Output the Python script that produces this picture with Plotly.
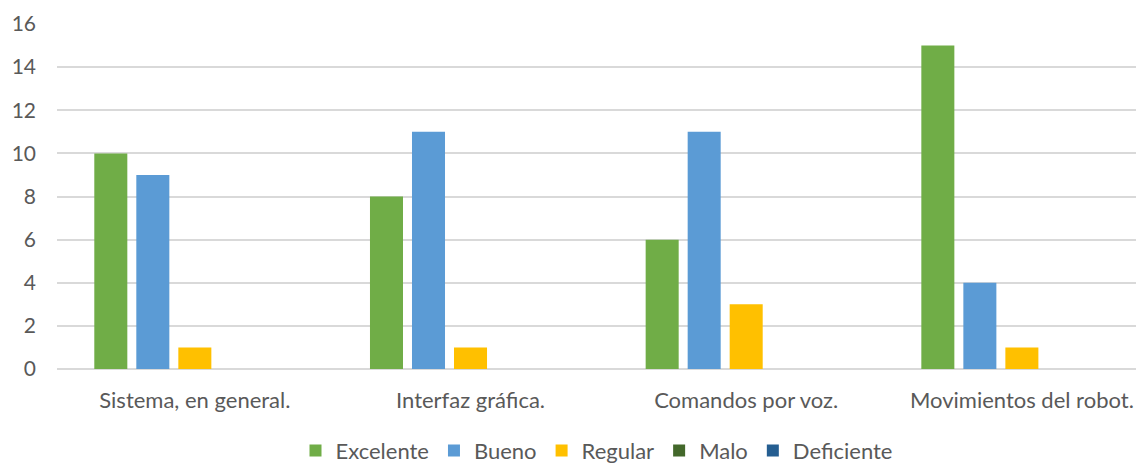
import plotly.graph_objects as go

categories = ["Sistema, en general.", "Interfaz gráfica.", "Comandos por voz.", "Movimientos del robot."]
series_names = ["Excelente", "Bueno", "Regular", "Malo", "Deficiente"]
excelente = [10, 8, 6, 15]
bueno = [9, 11, 11, 4]
regular = [1, 1, 3, 1]
malo = [0, 0, 0, 0]
deficiente = [0, 0, 0, 0]
y_ticks = [0, 2, 4, 6, 8, 10, 12, 14, 16]

colors = ["#70AD47", "#5B9BD5", "#FFC000", "#43682B", "#255E91"]
values = [excelente, bueno, regular, malo, deficiente]

FONT = "Lato"
TEXT = "#595959"
SIZE = 22

fig = go.Figure()
for name, vals, col in zip(series_names, values, colors):
    fig.add_trace(go.Bar(
        x=categories, y=vals, name=name,
        marker=dict(color=col, line=dict(width=0)),
    ))

fig.update_layout(
    width=1136, height=464,
    margin=dict(l=57, r=0, t=24, b=95, autoexpand=False),
    paper_bgcolor="white", plot_bgcolor="white",
    barmode="group", bargap=0.238, bargroupgap=0.214,
    font=dict(family=FONT, size=SIZE, color=TEXT),
    showlegend=True,
    legend=dict(orientation="h", x=0.5, xanchor="center", y=-0.176, yanchor="top",
                font=dict(family=FONT, size=SIZE, color=TEXT), itemwidth=30,
                traceorder="normal"),
)
fig.update_xaxes(range=[-0.5, 3.414], showgrid=False, showline=False, ticks="",
                 automargin=False,
                 tickfont=dict(family=FONT, size=SIZE, color=TEXT), ticklabelstandoff=16)
fig.update_yaxes(range=[0, 16], tickvals=y_ticks, showgrid=True, gridcolor="#D9D9D9",
                 gridwidth=2, zeroline=True, zerolinecolor="#D9D9D9", zerolinewidth=2,
                 showline=False, ticks="", automargin=False,
                 tickfont=dict(family=FONT, size=21, color=TEXT),
                 ticklabelstandoff=20)

fig.write_html("out.html")
